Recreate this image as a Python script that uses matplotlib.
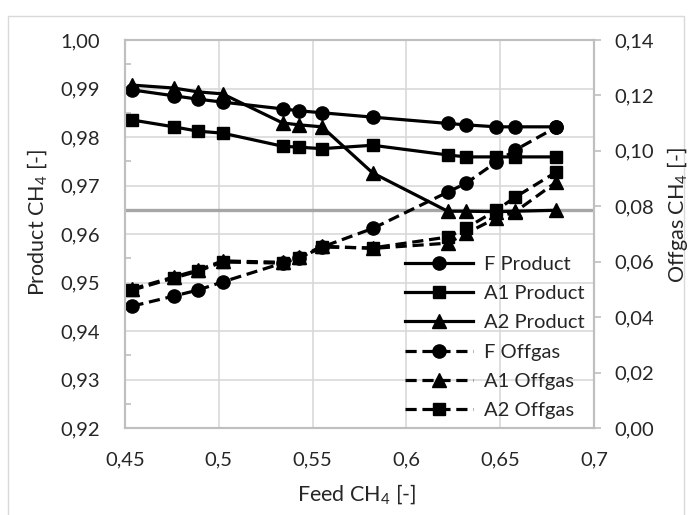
import matplotlib.pyplot as plt
from matplotlib.patches import Rectangle
from matplotlib.ticker import FuncFormatter, MultipleLocator

plt.rcParams['font.family'] = ['Lato', 'DejaVu Sans']
plt.rcParams['mathtext.fontset'] = 'custom'
plt.rcParams['mathtext.rm'] = 'Lato'
plt.rcParams['mathtext.it'] = 'Lato:italic'

# ---- data ---- #
feed = [0.454, 0.476, 0.489, 0.502, 0.534, 0.543, 0.555, 0.582, 0.622, 0.632, 0.648, 0.658, 0.680]

f_product = [0.9897, 0.9885, 0.9878, 0.9872, 0.9858, 0.9854, 0.9850, 0.9841, 0.9828, 0.9825, 0.9821, 0.9821, 0.9821]
a1_product = [0.9835, 0.9821, 0.9812, 0.9808, 0.9781, 0.9779, 0.9776, 0.9783, 0.9763, 0.9759, 0.9759, 0.9759, 0.9759]
a2_product = [0.9907, 0.9901, 0.9893, 0.9889, 0.9829, 0.9825, 0.9821, 0.9726, 0.9647, 0.9647, 0.9646, 0.9647, 0.9649]

f_offgas = [0.0440, 0.0476, 0.0498, 0.0527, 0.0595, 0.0613, 0.0653, 0.0720, 0.0851, 0.0884, 0.0960, 0.1003, 0.1086]
a1_offgas = [0.0502, 0.0545, 0.0570, 0.0603, 0.0598, 0.0616, 0.0656, 0.0648, 0.0667, 0.0703, 0.0758, 0.0780, 0.0888]
a2_offgas = [0.0498, 0.0541, 0.0566, 0.0599, 0.0595, 0.0613, 0.0653, 0.0650, 0.0689, 0.0722, 0.0786, 0.0833, 0.0924]

spec_line = 0.965

text_col = '#262626'
axis_col = '#bfbfbf'
grid_col = '#d9d9d9'
fs = 14.5


def comma_fmt(fmt):
    return FuncFormatter(lambda v, pos: fmt.format(round(v, 3)).replace('.', ','))


fig, ax = plt.subplots(figsize=(6.92, 5.15), dpi=100)
fig.subplots_adjust(left=0.1806, right=0.8584, top=0.9223, bottom=0.1689)
ax2 = ax.twinx()

# product purity on the left axis
ax.axhline(spec_line, color='#a6a6a6', lw=2.4, zorder=1.5)
line = dict(color='black', lw=2.3)
h_fp, = ax.plot(feed, f_product, marker='o', ms=9.5, label='F Product', **line)
h_a1p, = ax.plot(feed, a1_product, marker='s', ms=9, label='A1 Product', **line)
h_a2p, = ax.plot(feed, a2_product, marker='^', ms=10, label='A2 Product', **line)

# offgas on the right axis
dash = (0, (3.5, 1.8))
h_fo, = ax2.plot(feed, f_offgas, marker='o', ms=9.5, ls=dash, label='F Offgas', **line)
h_a1o, = ax2.plot(feed, a1_offgas, marker='^', ms=10, ls=dash, label='A1 Offgas', **line)
h_a2o, = ax2.plot(feed, a2_offgas, marker='s', ms=9, ls=dash, label='A2 Offgas', **line)

ax.set_xlim(0.45, 0.7)
ax.set_ylim(0.92, 1.00)
ax2.set_ylim(0.0, 0.14)
ax.xaxis.set_major_locator(MultipleLocator(0.05))
ax.yaxis.set_major_locator(MultipleLocator(0.01))
ax.yaxis.set_minor_locator(MultipleLocator(0.005))
ax2.yaxis.set_major_locator(MultipleLocator(0.02))
ax.xaxis.set_major_formatter(comma_fmt('{:g}'))
ax.yaxis.set_major_formatter(comma_fmt('{:.2f}'))
ax2.yaxis.set_major_formatter(comma_fmt('{:.2f}'))

ax.grid(True, color=grid_col, lw=1.2)
ax.set_axisbelow(True)
for a in (ax, ax2):
    for s in a.spines.values():
        s.set_color(axis_col)
        s.set_linewidth(1.5)

ax.tick_params(axis='x', length=0, pad=17, labelsize=fs, labelcolor=text_col)
ax.tick_params(axis='y', which='major', length=0, pad=18, labelsize=fs, labelcolor=text_col)
ax.tick_params(axis='y', which='minor', direction='in', length=4, width=1.2, color=axis_col)
ax2.tick_params(axis='y', direction='out', length=5, width=1.2, color=axis_col, pad=10,
                labelsize=fs, labelcolor=text_col)

# axis titles
fig.text(357 / 692, 1 - 494 / 515, 'Feed CH$_4$ [-]', ha='center', va='center', fontsize=15.5, color=text_col)
fig.text(37 / 692, 1 - 222 / 515, 'Product CH$_4$ [-]', ha='center', va='center', rotation=90,
         fontsize=15.5, color=text_col)
fig.text(677 / 692, 1 - 215 / 515, 'Offgas CH$_4$ [-]', ha='center', va='center', rotation=90,
         fontsize=15.5, color=text_col)

handles = [h_fp, h_a1p, h_a2p, h_fo, h_a1o, h_a2o]
leg = ax2.legend(handles, [h.get_label() for h in handles], loc='upper left',
                 bbox_to_anchor=(405 / 692, 1 - 256 / 515), bbox_transform=fig.transFigure,
                 frameon=False, fontsize=fs, handlelength=3.4, handletextpad=0.5,
                 labelspacing=0.6, borderpad=0, borderaxespad=0)
for t in leg.get_texts():
    t.set_color(text_col)

# chart area border
fig.patches.append(Rectangle((8 / 692, -0.01), (684 - 8) / 692, 1.01 - 16 / 515,
                             transform=fig.transFigure, fill=False, edgecolor=grid_col, lw=1))

fig.savefig('out.png', dpi=100)
